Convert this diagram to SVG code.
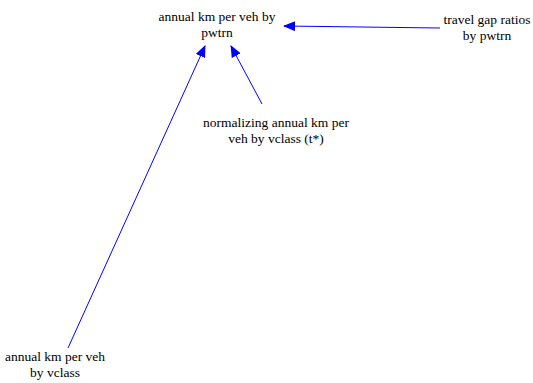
<svg xmlns="http://www.w3.org/2000/svg" width="533" height="383" viewBox="0 0 533 383">
<style>
text{font-family:"Liberation Serif","Times New Roman",serif;font-size:13.5px;fill:#000;text-anchor:middle}
.c{stroke:#0000ff;stroke-width:1;fill:none}
</style>
<defs>
<marker id="a" markerWidth="12" markerHeight="10" refX="11" refY="5" orient="auto" markerUnits="userSpaceOnUse">
<path d="M0,0 L12,5 L0,10 Z" fill="#0000ff"/>
</marker>
</defs>
<rect width="533" height="383" fill="#fff"/>
<g id="connectors">
<path class="c" d="M440,28 L284,26" marker-end="url(#a)"/>
<path class="c" d="M262,104 L231,46" marker-end="url(#a)"/>
<path class="c" d="M68,348 L205,46" marker-end="url(#a)"/>
</g>
<g id="n1"><text x="217" y="21">annual km per veh by</text><text x="217" y="37">pwtrn</text></g>
<g id="n2"><text x="487" y="24">travel gap ratios</text><text x="487" y="40">by pwtrn</text></g>
<g id="n3"><text x="276" y="127">normalizing annual km per</text><text x="276" y="143">veh by vclass (t*)</text></g>
<g id="n4"><text x="55" y="361">annual km per veh</text><text x="55" y="377">by vclass</text></g>
</svg>
